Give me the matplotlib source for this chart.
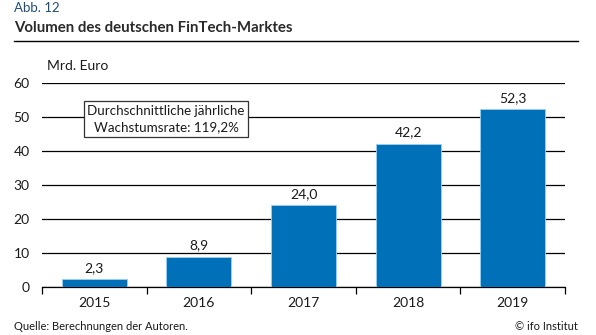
import matplotlib
matplotlib.use("Agg")
import matplotlib.pyplot as plt
import numpy as np

years = ["2015", "2016", "2017", "2018", "2019"]
values = [2.3, 8.9, 24.0, 42.2, 52.3]
yticks = [0, 10, 20, 30, 40, 50, 60]

plt.rcParams['font.family'] = ['Lato', 'DejaVu Sans']

W, H = 596, 335
fig = plt.figure(figsize=(W / 100, H / 100), dpi=100)
ax = fig.add_axes([42 / W, (H - 287) / H, (565 - 42) / W, (287 - 83) / H])

x = np.arange(len(years))
ax.bar(x, values, width=0.62, color="#0070b8", edgecolor="#9fd0ef", linewidth=0.6, zorder=3)
for xi, v in zip(x, values):
    ax.text(xi, v + 1.6, f"{v:.1f}".replace(".", ","), ha="center", va="bottom",
            fontsize=10, color="#1a1a1a")

ax.set_xlim(-0.5, len(years) - 0.5)
ax.set_ylim(0, 60)
ax.set_yticks(yticks)
ax.set_yticklabels([str(t) for t in yticks], fontsize=10, color="#1a1a1a")
ax.tick_params(axis="y", length=0, pad=9)
ax.yaxis.grid(True, color="black", linewidth=0.9, zorder=0)
ax.set_axisbelow(True)

ax.set_xticks(x)
ax.set_xticklabels(years, fontsize=10, color="#1a1a1a")
ax.tick_params(axis="x", which="major", length=0, pad=7)
ax.set_xticks(np.arange(-0.5, len(years), 1.0), minor=True)
ax.tick_params(axis="x", which="minor", length=5, width=0.9, color="black", direction="out")

for s in ["top", "right", "left"]:
    ax.spines[s].set_visible(False)
ax.spines["bottom"].set_color("black")
ax.spines["bottom"].set_linewidth(0.9)

ax.text(0.685, 49.4, "Durchschnittliche jährliche\nWachstumsrate: 119,2%", ha="center", va="center",
        fontsize=9.6, color="#1a1a1a", linespacing=1.5, zorder=5,
        bbox=dict(boxstyle="square,pad=0.28", facecolor="white", edgecolor="#333333", linewidth=0.9))

fig.text(47 / W, 1 - 66 / H, "Mrd. Euro", fontsize=10, color="#1a1a1a", va="center", ha="left")
fig.text(14 / W, 1 - 8 / H, "Abb. 12", fontsize=9.5, color="#1f4e79", va="center", ha="left")
fig.text(14 / W, 1 - 28 / H, "Volumen des deutschen FinTech-Marktes", fontsize=10.8,
         fontweight="bold", color="#2a2a2a", va="center", ha="left")
fig.add_artist(plt.Line2D([14 / W, 578 / W], [1 - 41 / H, 1 - 41 / H], color="black", linewidth=1.0))
fig.text(14 / W, 1 - 327 / H, "Quelle: Berechnungen der Autoren.", fontsize=8, color="#1a1a1a",
         va="center", ha="left")
fig.text(578 / W, 1 - 327 / H, "© ifo Institut", fontsize=8, color="#1a1a1a", va="center", ha="right")

fig.savefig("out.png", dpi=100)
